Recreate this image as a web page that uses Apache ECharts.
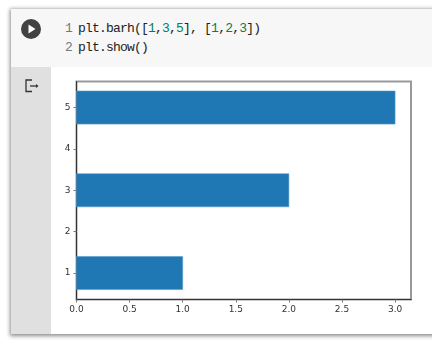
<!DOCTYPE html>
<html>
<head>
<meta charset="utf-8">
<style>
  html, body { margin: 0; padding: 0; background: #fff; }
  #page { position: relative; width: 432px; height: 351px; overflow: hidden; }
  /* notebook cell */
  .cell { position: absolute; left: 11px; top: 9px; width: 440px; height: 325px; background: #fff;
          box-shadow: 0 1px 4px 1px rgba(0,0,0,.45); }
  .code-bg { position: absolute; left: 11px; top: 9px; width: 421px; height: 58px; background: #f7f7f7; }
  .side { position: absolute; left: 11px; top: 67px; width: 40px; height: 267px; background: #e0e0e0; }
  .code { position: absolute; left: 78px; font: 13px/19px "Liberation Mono", monospace; letter-spacing: -0.8px; color: #222; white-space: pre; }
  .num { position: absolute; left: 65px; font: 13px/19px "Liberation Mono", monospace; color: #777; }
  .code b { font-weight: normal; color: #00805a; }
  #main { position: absolute; left: 0; top: 0; width: 432px; height: 351px; }
  svg { position: absolute; }
</style>
</head>
<body>
<div id="page">
  <div class="cell"></div>
  <div class="code-bg"></div>
  <div class="side"></div>
  <svg style="left:21px;top:19px" width="20" height="20">
    <circle cx="10" cy="10" r="10" fill="#424242"/>
    <path d="M7.5 5.5 L14.5 10 L7.5 14.5 Z" fill="#fff"/>
  </svg>
  <svg style="left:24px;top:79px" width="16" height="14" fill="none" stroke="#333" stroke-width="1.3">
    <path d="M8 1 H2 V12.5 H8"/>
    <path d="M6 7 H12" />
    <path d="M12 5 L14.5 7 L12 9 Z" fill="#333" stroke="none"/>
  </svg>
  <div class="num" style="top:19px">1</div>
  <div class="code" style="top:19px">plt.barh([<b>1</b>,<b>3</b>,<b>5</b>], [<b>1</b>,<b>2</b>,<b>3</b>])</div>
  <div class="num" style="top:38px">2</div>
  <div class="code" style="top:38px">plt.show()</div>
  <div id="main"></div>
</div>
<script src="https://cdn.jsdelivr.net/npm/echarts@6/dist/echarts.min.js"></script>
<script>
// plt.barh([1,3,5], [1,2,3])
const positions = [1, 3, 5];
const widths = [1, 2, 3];
const barThickness = 0.8;
const xTicks = [0, 0.5, 1, 1.5, 2, 2.5, 3];
const yTicks = [1, 2, 3, 4, 5];

const chart = echarts.init(document.getElementById('main'), null, { renderer: 'canvas' });

const labelStyle = { color: '#333', fontSize: 9, fontFamily: 'DejaVu Sans' };

chart.setOption({
  animation: false,
  backgroundColor: 'transparent',
  grid: {
    left: 76.5, top: 81.5, width: 334.5, height: 218,
    show: true, borderColor: '#999', borderWidth: 2, backgroundColor: 'transparent'
  },
  xAxis: {
    type: 'value', min: 0, max: 3.15,
    splitLine: { show: false },
    axisLine: { show: true, lineStyle: { color: '#333', width: 1 } },
    axisTick: { show: true, length: 3, customValues: xTicks, lineStyle: { color: '#777' } },
    axisLabel: { ...labelStyle, margin: 6, customValues: xTicks, formatter: v => v.toFixed(1) }
  },
  yAxis: {
    type: 'value', min: 0.36, max: 5.63,
    splitLine: { show: false },
    axisLine: { show: true, lineStyle: { color: '#333', width: 1 } },
    axisTick: { show: true, length: 3, customValues: yTicks, lineStyle: { color: '#777' } },
    axisLabel: { ...labelStyle, margin: 6, customValues: yTicks, formatter: v => String(v) }
  },
  series: [{
    type: 'custom',
    clip: true,
    data: positions.map((p, i) => [widths[i], p]),
    encode: { x: 0, y: 1 },
    renderItem: (params, api) => {
      const w = api.value(0), y = api.value(1);
      const a = api.coord([0, y + barThickness / 2]);
      const b = api.coord([w, y - barThickness / 2]);
      return {
        type: 'rect',
        shape: { x: a[0], y: a[1], width: b[0] - a[0], height: b[1] - a[1] },
        style: { fill: '#1f77b4', stroke: '#5a9bc9', lineWidth: 0.6 }
      };
    }
  }]
});
</script>
</body>
</html>
